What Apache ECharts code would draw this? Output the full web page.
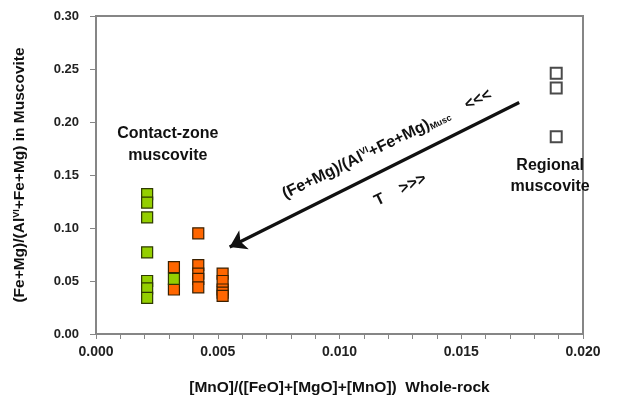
<!DOCTYPE html>
<html>
<head>
<meta charset="utf-8">
<script src="https://cdn.jsdelivr.net/npm/echarts@6/dist/echarts.min.js"></script>
<style>
  html, body { margin: 0; padding: 0; background: #fff; }
  #chart { width: 626px; height: 402px; }
</style>
</head>
<body>
<div id="chart"></div>
<script>
// Contact-zone muscovite (green)
const contactX = [0.0021, 0.0021, 0.0021, 0.0021, 0.0021, 0.0021, 0.0021, 0.0032];
const contactY = [0.132, 0.124, 0.110, 0.077, 0.050, 0.043, 0.034, 0.052];

// Contact-zone muscovite (orange)
const orangeX = [0.0032, 0.0032, 0.0042, 0.0042, 0.0042, 0.0042, 0.0042, 0.0052, 0.0052, 0.0052, 0.0052, 0.0052];
const orangeY = [0.063, 0.042, 0.095, 0.065, 0.057, 0.052, 0.044, 0.057, 0.050, 0.042, 0.039, 0.036];

// Regional muscovite (open squares)
const regionalX = [0.0189, 0.0189, 0.0189];
const regionalY = [0.246, 0.232, 0.186];

// Trend arrow endpoints [x, y]
const arrowStart = [0.01738, 0.2184];
const arrowEnd = [0.00549, 0.0821];

// Axis ranges and tick steps
const xMin = 0, xMax = 0.020, xStep = 0.005;
const yMin = 0, yMax = 0.30, yStep = 0.05;

const pairs = (xs, ys) => xs.map((x, i) => [x, ys[i]]);

const bold = 'bold';
const fam = 'Arial, "Liberation Sans", sans-serif';
const ink = '#111111';

const chart = echarts.init(document.getElementById('chart'), null, { renderer: 'canvas' });

// Free-floating annotation anchored at a data position
const textSeries = (pos, label) => ({
  type: 'scatter',
  symbol: 'circle',
  symbolSize: 1,
  itemStyle: { color: 'rgba(0,0,0,0)', opacity: 1 },
  silent: true,
  z: 10,
  labelLayout: { hideOverlap: false },
  data: [pos],
  label: Object.assign({ show: true, position: 'inside', color: ink,
    fontFamily: fam, fontWeight: bold }, label)
});

chart.setOption({
  animation: false,
  backgroundColor: '#fff',
  grid: { left: 96, right: 43, top: 16, bottom: 68, show: true,
          borderColor: '#868686', borderWidth: 2 },
  xAxis: {
    type: 'value', min: xMin, max: xMax, interval: xStep,
    name: '[MnO]/([FeO]+[MgO]+[MnO])  Whole-rock',
    nameLocation: 'middle', nameGap: 46,
    nameTextStyle: { fontFamily: fam, fontWeight: bold, fontSize: 15.5, color: ink },
    axisLine: { show: true, lineStyle: { color: '#868686', width: 2 } },
    axisTick: { show: true, length: 5, lineStyle: { color: '#868686' } },
    minorTick: { show: true, splitNumber: 5, length: 5, lineStyle: { color: '#868686' } },
    splitLine: { show: false },
    axisLabel: { fontFamily: fam, fontWeight: bold, fontSize: 14, color: '#222', margin: 11,
                 formatter: v => v.toFixed(3) }
  },
  yAxis: {
    type: 'value', min: yMin, max: yMax, interval: yStep,
    name: '{b|(Fe+Mg)/(Al}{s|VI}{b|+Fe+Mg) in Muscovite}',
    nameLocation: 'middle', nameGap: 68, nameRotate: 90,
    nameTextStyle: { rich: {
      b: { fontFamily: fam, fontWeight: bold, fontSize: 15.5, color: ink },
      s: { fontFamily: fam, fontWeight: bold, fontSize: 9, color: ink, verticalAlign: 'top', padding: [0, 0, 7, 0] }
    } },
    axisLine: { show: true, lineStyle: { color: '#868686', width: 2 } },
    axisTick: { show: true, length: 6, lineStyle: { color: '#868686' } },
    splitLine: { show: false },
    axisLabel: { fontFamily: fam, fontWeight: bold, fontSize: 13, color: '#222', margin: 17,
                 formatter: v => v.toFixed(2) }
  },
  series: [
    {
      type: 'scatter', name: 'orange', symbol: 'rect', symbolSize: 11, z: 3,
      itemStyle: { color: '#ff6600', borderColor: '#3a2000', borderWidth: 1.2, opacity: 1 },
      data: pairs(orangeX, orangeY)
    },
    {
      type: 'scatter', name: 'green', symbol: 'rect', symbolSize: 11, z: 4,
      itemStyle: { color: '#94cf00', borderColor: '#2e3a00', borderWidth: 1.2, opacity: 1 },
      data: pairs(contactX, contactY)
    },
    {
      type: 'scatter', name: 'regional', symbol: 'rect', symbolSize: 11, z: 3,
      itemStyle: { color: '#ffffff', borderColor: '#4a4a4a', borderWidth: 2, opacity: 1 },
      data: pairs(regionalX, regionalY)
    },
    {
      type: 'lines', coordinateSystem: 'cartesian2d', z: 5, silent: true,
      symbol: ['none', 'arrow'], symbolSize: [12, 16],
      lineStyle: { color: '#111', width: 3.2, opacity: 1 },
      data: [{ coords: [arrowStart, arrowEnd] }]
    },
    textSeries([0.00295, 0.179], { formatter: 'Contact-zone\nmuscovite', fontSize: 16, lineHeight: 22 }),
    textSeries([0.01865, 0.1490], { formatter: 'Regional\nmuscovite', fontSize: 16, lineHeight: 21 }),
    textSeries([0.01195, 0.1790], {
      rotate: 26,
      formatter: '{b|(Fe+Mg)/(Al}{s|VI}{b|+Fe+Mg)}{d|Musc}{b|    <<<}',
      rich: {
        b: { fontFamily: fam, fontWeight: bold, fontSize: 16, color: ink },
        s: { fontFamily: fam, fontWeight: bold, fontSize: 9, color: ink, verticalAlign: 'top', padding: [0, 0, 8, 0] },
        d: { fontFamily: fam, fontWeight: bold, fontSize: 9, color: ink, verticalAlign: 'bottom', padding: [8, 0, 0, 0] }
      }
    }),
    textSeries([0.01250, 0.1360], { rotate: 26, formatter: 'T    >>>', fontSize: 16 })
  ]
});
</script>
</body>
</html>
